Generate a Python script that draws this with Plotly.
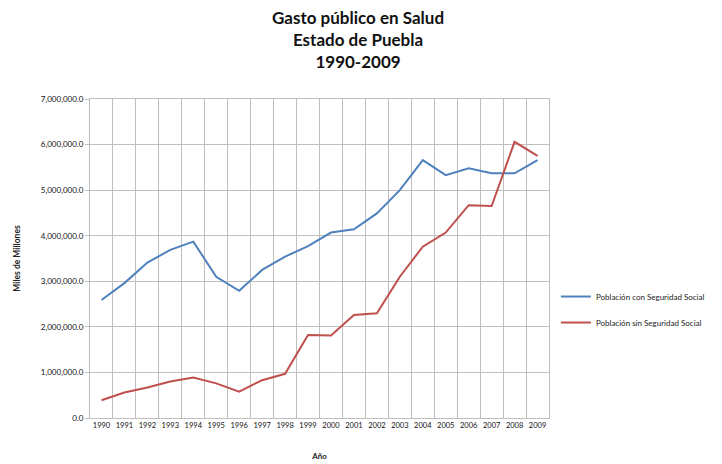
import plotly.graph_objects as go

years = [str(y) for y in range(1990, 2010)]
con_ss = [2590000, 2960000, 3410000, 3690000, 3870000, 3100000, 2790000, 3250000, 3540000, 3770000,
          4070000, 4140000, 4490000, 5000000, 5660000, 5330000, 5480000, 5370000, 5370000, 5660000]
sin_ss = [390000, 560000, 670000, 800000, 890000, 760000, 580000, 830000, 970000, 1820000,
          1810000, 2260000, 2300000, 3100000, 3760000, 4070000, 4670000, 4650000, 6060000, 5750000]

font_family = "Lato, Open Sans, sans-serif"

fig = go.Figure()
fig.add_trace(go.Scatter(x=years, y=con_ss, mode="lines", name="Población con Seguridad Social",
                         line=dict(color="#4F81BD", width=2), legendgroup="a"))
fig.add_trace(go.Scatter(x=years, y=sin_ss, mode="lines", name="Población sin Seguridad Social",
                         line=dict(color="#C0504D", width=2), legendgroup="b"))

fig.add_annotation(
    text="<b>Gasto público en Salud<br>Estado de Puebla<br>1990-2009</b>",
    xref="paper", yref="paper", x=(361 - 90) / 465, y=(418 - 5) / 319,
    xanchor="center", yanchor="top", showarrow=False, align="center",
    font=dict(size=17, family=font_family, color="#111"),
)

fig.update_layout(
    width=722, height=464,
    margin=dict(l=90, r=167, t=99, b=46),
    paper_bgcolor="white", plot_bgcolor="white",
    font=dict(family=font_family, color="#222"),
    legend=dict(x=1.015, y=0.34, xanchor="left", yanchor="middle",
                font=dict(size=8, family=font_family, color="#222"),
                tracegroupgap=7, itemwidth=30, bgcolor="rgba(0,0,0,0)"),
    showlegend=True,
)
fig.update_xaxes(
    type="category", tickson="boundaries", showgrid=True, gridcolor="#BFBFBF", gridwidth=1,
    showline=True, linecolor="#BFBFBF", ticks="", tickangle=0, automargin=False,
    tickfont=dict(size=7.5, family=font_family, color="#111"),
    title=dict(text="<b>Año</b>", font=dict(size=8, family=font_family), standoff=24),
    range=[-0.5, 19.5], mirror=True,
)
fig.update_yaxes(
    range=[0, 7000000], dtick=1000000, tickformat=",.1f", showgrid=True, gridcolor="#BFBFBF",
    showline=True, linecolor="#BFBFBF", mirror=True, ticks="outside", ticklen=4, tickcolor="#BFBFBF",
    tickfont=dict(size=8, family=font_family, color="#111"), automargin=False,
    title=dict(text="<b>Miles de Millones</b>", font=dict(size=8.5, family=font_family), standoff=18),
    zeroline=False,
)

fig.write_html("out.html")
